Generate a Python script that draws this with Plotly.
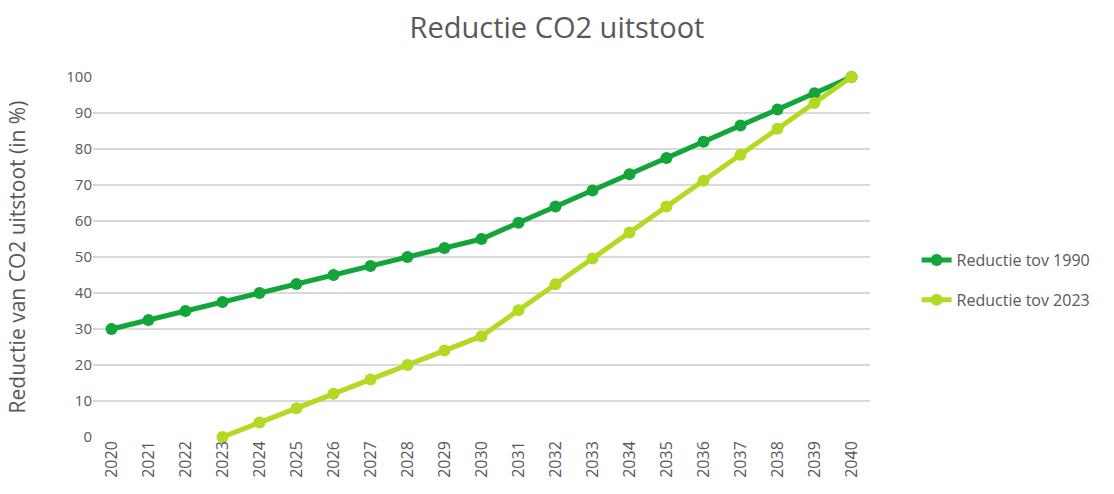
import plotly.graph_objects as go

years = [str(y) for y in range(2020, 2041)]
tov_1990 = [30, 32.5, 35, 37.5, 40, 42.5, 45, 47.5, 50, 52.5, 55,
            59.5, 64, 68.5, 73, 77.5, 82, 86.5, 91, 95.5, 100]
years_2023 = [str(y) for y in range(2023, 2041)]
tov_2023 = [0, 4, 8, 12, 16, 20, 24, 28, 35.2, 42.4, 49.6, 56.8,
            64, 71.2, 78.4, 85.6, 92.8, 100]
y_ticks = list(range(0, 101, 10))

FONT = "Open Sans"
GRAY = "#595959"

fig = go.Figure()
fig.add_trace(go.Scatter(
    x=years, y=tov_1990, name="Reductie tov 1990", mode="lines+markers",
    line=dict(color="#13A43A", width=5), marker=dict(size=12, color="#13A43A"),
    legendgroup="a", cliponaxis=False))
fig.add_trace(go.Scatter(
    x=years_2023, y=tov_2023, name="Reductie tov 2023", mode="lines+markers",
    line=dict(color="#B3D923", width=5), marker=dict(size=12, color="#B3D923"),
    legendgroup="b", cliponaxis=False))

fig.update_layout(
    width=1114, height=494,
    margin=dict(l=93, r=244, t=77, b=57, autoexpand=False),
    paper_bgcolor="white", plot_bgcolor="white",
    font=dict(family=FONT, color=GRAY, size=15),
    title=dict(text="Reductie CO2 uitstoot", x=0.5, xanchor="center",
               y=0.943, yanchor="middle",
               font=dict(family=FONT, size=29, color=GRAY)),
    legend=dict(x=1.06, y=0.436, xanchor="left", yanchor="middle",
                font=dict(family=FONT, size=16, color=GRAY),
                traceorder="grouped", tracegroupgap=16,
                bgcolor="rgba(0,0,0,0)"),
    xaxis=dict(type="category", categoryorder="array", categoryarray=years,
               range=[-0.5, 20.5], tickangle=-90, showgrid=False,
               showline=False, ticks="", tickfont=dict(size=16, color=GRAY),
               zeroline=False, automargin=False),
    yaxis=dict(range=[0, 100], tickvals=y_ticks, showgrid=True,
               gridcolor="#D9D9D9", gridwidth=1.5, zeroline=False,
               showline=False, ticks="", tickfont=dict(size=15, color=GRAY),
               automargin=False,
               title=dict(text="Reductie van CO2 uitstoot (in %)",
                          font=dict(size=21, color=GRAY), standoff=34)),
)

fig.write_html("out.html", config={"displayModeBar": False},
               post_script="document.body.style.margin='0';document.body.style.overflow='hidden';")
